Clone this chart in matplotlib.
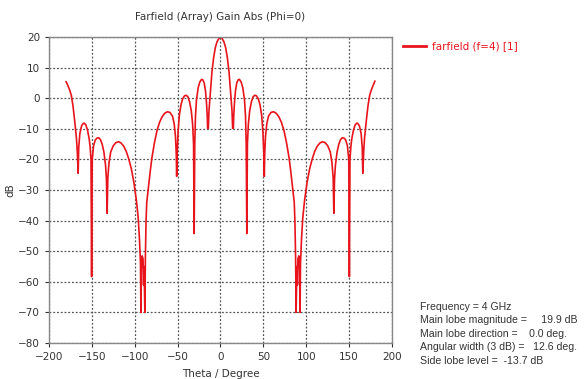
import matplotlib.pyplot as plt

# Farfield gain cut (Phi=0)
theta_left = [-180, -178, -176, -174, -172, -170, -168, -167, -166, -165.3, -164, -162, -160, -159,
              -157, -155, -153, -152, -151, -150.3, -149.6, -148, -146, -144, -142, -140, -138,
              -136, -134, -133, -132.2, -131.4, -130, -128, -125, -122, -119, -116, -113, -110,
              -107, -104, -101, -98, -96, -94.5, -93.3, -92.8, -92.2, -91.4, -90.3, -89.7, -89.1,
              -88.2, -87.6, -86.8, -86, -84, -82, -80, -77, -74, -71, -68, -65, -62, -59, -56,
              -54, -52.5, -51.6, -51.1, -50.5, -49.5, -48, -46, -44, -42, -40, -38, -36, -34,
              -32.5, -31.4, -30.7, -30.0, -29.2, -28, -26, -24, -22, -20.5, -19, -17.5, -16.3,
              -15.4, -15.0, -14.2, -13.4, -12.2, -11, -10, -9, -8, -6, -4, -2]
gain_left = [5.4, 4.2, 2.8, 1.0, -2.5, -7.5, -13, -17.5, -24.5, -16, -11.5, -9, -8.2, -8.1,
             -8.7, -10.5, -13.5, -16, -20, -58.3, -20, -15.5, -13.6, -13, -12.9, -13.5, -15,
             -17.5, -22, -26.5, -37.6, -26, -21, -17.5, -15.5, -14.5, -14.2, -14.6, -15.6, -17.3,
             -19.8, -23, -27.5, -33.5, -39, -46, -54, -70, -56, -51.5, -52.5, -61, -55,
             -70, -52, -40, -34, -29, -24, -19.5, -14.5, -10.5, -7.8, -6, -4.9, -4.4, -4.6, -5.8,
             -8.3, -12.5, -18, -25.5, -18, -11, -5.5, -2, -0.1, 0.8, 1.0, 0.5, -1.2, -4.2,
             -8.5, -15, -44.2, -15, -6, -0.5, 3.5, 5.4, 6.2, 6.0, 5.0, 2.5, -1.5,
             -6, -9.8, -9.8, -4, 0.5, 5, 8.5, 11, 13.3, 16.6, 18.5, 19.5]

theta_main = [0]
gain_main = [19.9]

theta_right = [2, 4, 6, 8, 9, 10, 11, 12.2, 13.4, 14.2, 15.0, 15.4, 16.3, 17.5, 19, 20.5, 22, 24,
               26, 28, 29.2, 30.0, 30.7, 31.4, 32.5, 34, 36, 38, 40, 42, 44, 46, 48, 49.5, 50.5,
               51.1, 51.6, 52.5, 54, 56, 59, 62, 65, 68, 71, 74, 77, 80, 82, 84, 86, 86.8, 87.6,
               88.2, 89.1, 89.7, 90.3, 91.4, 92.2, 92.8, 93.3, 94.5, 96, 98, 101, 104, 107, 110,
               113, 116, 119, 122, 125, 128, 130, 131.4, 132.2, 133, 134, 136, 138, 140, 142,
               144, 146, 148, 149.6, 150.3, 151, 152, 153, 155, 157, 159, 160, 162, 164, 165.3,
               166, 167, 168, 170, 172, 174, 176, 178, 180]
gain_right = [19.5, 18.5, 16.6, 13.3, 11, 8.5, 5, 0.5, -4, -9.8, -9.8, -6, -1.5, 2.5, 5.0, 6.0, 6.2, 5.4,
              3.5, -0.5, -6, -15, -44.2, -15, -8.5, -4.2, -1.2, 0.5, 1.0, 0.8, -0.1, -2, -5.5, -11, -18,
              -25.5, -18, -12.5, -8.3, -5.8, -4.6, -4.4, -4.9, -6, -7.8, -10.5, -14.5, -19.5, -24, -29, -34, -40, -52,
              -70, -55, -61, -52.5, -51.5, -56, -70, -54, -46, -39, -33.5, -27.5, -23, -19.8, -17.3,
              -15.6, -14.6, -14.2, -14.5, -15.5, -17.5, -21, -26, -37.6, -26.5, -22, -17.5, -15, -13.5, -12.9,
              -13, -13.6, -15.5, -20, -58.3, -20, -16, -13.5, -10.5, -8.7, -8.1, -8.2, -9, -11.5, -16,
              -24.5, -17.5, -13, -7.5, -2.5, 1.0, 2.8, 4.2, 5.6]

theta = theta_left + theta_main + theta_right
gain = gain_left + gain_main + gain_right

x_ticks = [-200, -150, -100, -50, 0, 50, 100, 150, 200]
y_ticks = [20, 10, 0, -10, -20, -30, -40, -50, -60, -70, -80]

info_lines = [
    "Frequency = 4 GHz",
    "Main lobe magnitude =     19.9 dB",
    "Main lobe direction =    0.0 deg.",
    "Angular width (3 dB) =   12.6 deg.",
    "Side lobe level =  -13.7 dB",
]

red = "#e8141c"
text_color = "#333333"

fig = plt.figure(figsize=(5.84, 3.79), dpi=100)
ax = fig.add_axes([0.0839, 0.095, 0.5873, 0.807])

ax.plot(theta, gain, color=red, lw=1.2, label="farfield (f=4) [1]")

ax.set_xlim(-200, 200)
ax.set_ylim(-80, 20)
ax.set_xticks(x_ticks)
ax.set_yticks(y_ticks)
ax.grid(True, linestyle=(0, (1.5, 1.5)), color="#555555", lw=0.9)
ax.tick_params(labelsize=7.5, colors=text_color, length=3, width=0.8)
for sp in ax.spines.values():
    sp.set_color("#888888")
    sp.set_linewidth(1.0)

ax.set_title("Farfield (Array) Gain Abs (Phi=0)", fontsize=7.5, color=text_color, pad=12)
ax.set_xlabel("Theta / Degree", fontsize=7.5, color=text_color, labelpad=5)
ax.set_ylabel("dB", fontsize=7.5, color=text_color, labelpad=2)

leg = ax.legend(loc="upper left", bbox_to_anchor=(1.02, 1.0), frameon=False, fontsize=7.5,
                handlelength=2.2, handletextpad=0.6, borderaxespad=0.0)
for t in leg.get_texts():
    t.set_color(red)
for h in leg.get_lines():
    h.set_linewidth(2.0)

y0 = 379 - 306.7
for i, line in enumerate(info_lines):
    fig.text(420 / 584, (y0 - i * 13.6) / 379, line, fontsize=7.6, color=text_color,
             family="Liberation Sans", ha="left", va="center")

fig.savefig("out.png", dpi=100)
